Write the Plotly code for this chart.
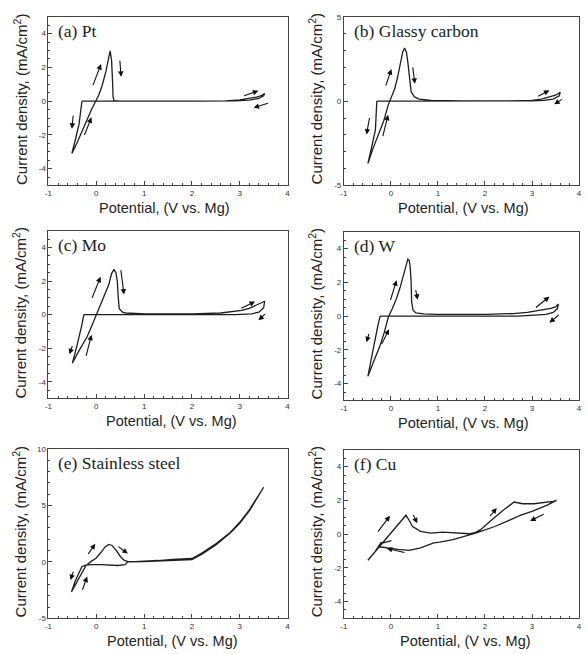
import plotly.graph_objects as go

# ---------------- data ----------------
PT_V = [-0.30, -0.32, -0.36, -0.43, -0.51, -0.40, -0.30, -0.20, -0.10, -0.02, 0.05, 0.12, 0.20, 0.29, 0.32, 0.34, 0.35, 0.37, 0.50, 1.00, 2.00, 2.70, 3.00, 3.20, 3.35, 3.45, 3.52, 3.50, 3.40, 3.20, 2.90, 2.00, 1.00, 0.00, -0.30]
PT_J = [0.00, -0.60, -1.35, -2.20, -3.10, -2.45, -1.80, -1.10, -0.50, -0.05, 0.35, 0.90, 1.75, 2.98, 2.40, 1.20, 0.30, 0.03, 0.00, 0.00, 0.00, 0.02, 0.08, 0.15, 0.24, 0.33, 0.45, 0.32, 0.16, 0.06, 0.02, 0.00, 0.00, 0.00, 0.00]

GC_V = [-0.30, -0.31, -0.33, -0.40, -0.49, -0.38, -0.25, -0.15, -0.06, 0.02, 0.08, 0.14, 0.19, 0.25, 0.29, 0.33, 0.36, 0.40, 0.43, 0.50, 0.60, 0.85, 1.5, 2.5, 3.0, 3.2, 3.35, 3.50, 3.60, 3.58, 3.45, 3.25, 3.0, 2.0, 1.0, 0.0, -0.30]
GC_J = [0.00, -0.80, -1.70, -2.60, -3.70, -2.80, -1.90, -1.15, -0.25, 0.25, 0.73, 1.40, 2.09, 2.90, 3.15, 2.90, 2.30, 1.20, 0.55, 0.25, 0.12, 0.05, 0.02, 0.02, 0.05, 0.12, 0.22, 0.35, 0.52, 0.32, 0.12, 0.05, 0.02, 0.00, 0.00, 0.00, 0.00]

MO_V = [-0.26, -0.28, -0.31, -0.40, -0.50, -0.38, -0.19, -0.10, -0.01, 0.06, 0.13, 0.20, 0.26, 0.32, 0.37, 0.41, 0.44, 0.46, 0.48, 0.55, 0.61, 1.03, 2.0, 2.6, 2.9, 3.04, 3.2, 3.32, 3.45, 3.52, 3.50, 3.40, 3.25, 2.9, 2.0, 1.0, 0.0, -0.26]
MO_J = [0.00, -0.35, -0.72, -1.80, -2.90, -2.25, -1.30, -0.70, -0.10, 0.35, 0.82, 1.30, 1.78, 2.45, 2.70, 2.50, 2.00, 1.00, 0.35, 0.15, 0.10, 0.05, 0.05, 0.10, 0.18, 0.26, 0.38, 0.52, 0.68, 0.80, 0.42, 0.15, 0.05, 0.00, 0.00, 0.00, 0.00, 0.00]

W_V = [-0.23, -0.25, -0.28, -0.38, -0.49, -0.36, -0.23, -0.14, -0.06, 0.03, 0.12, 0.19, 0.26, 0.32, 0.36, 0.39, 0.41, 0.43, 0.44, 0.47, 0.53, 0.70, 0.98, 2.0, 2.6, 2.9, 3.06, 3.25, 3.4, 3.5, 3.56, 3.54, 3.45, 3.30, 3.0, 2.7, 2.0, 1.0, 0.0, -0.23]
W_J = [0.00, -0.30, -0.60, -2.00, -3.57, -2.65, -1.74, -0.95, -0.10, 0.45, 1.06, 1.65, 2.32, 2.95, 3.38, 3.30, 2.90, 2.00, 0.87, 0.35, 0.19, 0.13, 0.10, 0.10, 0.15, 0.22, 0.29, 0.38, 0.46, 0.55, 0.72, 0.45, 0.22, 0.10, 0.04, 0.00, 0.00, 0.00, 0.00, 0.00]

SS_V = [-0.52, -0.40, -0.30, -0.22, -0.12, 0.00, 0.10, 0.18, 0.26, 0.33, 0.42, 0.50, 0.58, 0.66, 0.80, 1.00, 1.30, 1.60, 1.90, 2.00, 2.20, 2.50, 2.80, 3.00, 3.20, 3.35, 3.50, 3.40, 3.20, 3.00, 2.80, 2.50, 2.20, 2.00, 1.50, 1.00, 0.66, 0.60, 0.45, 0.30, 0.10, -0.10, -0.22, -0.30, -0.36, -0.44, -0.52]
SS_J = [-2.65, -1.75, -0.95, -0.35, 0.00, 0.35, 0.85, 1.30, 1.55, 1.45, 1.00, 0.50, 0.15, 0.02, 0.02, 0.05, 0.12, 0.22, 0.25, 0.30, 0.75, 1.60, 2.60, 3.50, 4.60, 5.60, 6.60, 5.85, 4.50, 3.40, 2.55, 1.50, 0.65, 0.20, 0.08, 0.02, 0.00, -0.25, -0.32, -0.28, -0.25, -0.25, -0.28, -0.40, -0.90, -1.70, -2.65]

CU_V = [0.01, -0.16, -0.21, -0.35, -0.49, -0.30, -0.10, 0.05, 0.18, 0.28, 0.32, 0.38, 0.46, 0.63, 0.84, 1.11, 1.40, 1.66, 1.80, 1.90, 2.14, 2.40, 2.62, 2.80, 3.04, 3.25, 3.45, 3.52, 3.31, 3.00, 2.76, 2.50, 2.21, 1.80, 1.32, 1.04, 0.91, 0.63, 0.39, 0.15, -0.06, -0.25]
CU_J = [-0.39, -0.52, -0.50, -1.09, -1.55, -0.92, -0.26, 0.24, 0.66, 0.98, 1.12, 0.85, 0.45, 0.16, 0.06, 0.12, 0.05, 0.02, 0.10, 0.25, 0.83, 1.45, 1.90, 1.80, 1.80, 1.85, 1.94, 2.00, 1.70, 1.35, 1.12, 0.80, 0.45, 0.06, -0.33, -0.47, -0.52, -0.82, -0.97, -0.91, -0.82, -0.75]

# scan-direction arrows: (tail V, tail J, head V, head J)
PT_ARROWS = [(-0.08, 0.86, 0.10, 2.2), (0.49, 2.49, 0.52, 1.44), (-0.48, -0.77, -0.51, -1.63),
             (-0.26, -2.1, -0.10, -0.96), (3.06, 0.29, 3.39, 0.61), (3.62, -0.1, 3.29, -0.39)]
GC_ARROWS = [(-0.12, 0.83, 0.01, 1.9), (0.46, 2.09, 0.51, 1.03), (-0.45, -0.91, -0.52, -1.98),
             (-0.18, -2.17, -0.06, -0.81), (3.1, 0.25, 3.37, 0.64), (3.67, 0.16, 3.47, -0.19)]
MO_ARROWS = [(-0.10, 0.92, 0.09, 2.26), (0.51, 2.75, 0.58, 1.2), (-0.49, -1.78, -0.56, -2.36),
             (-0.22, -2.55, -0.10, -1.2), (3.0, 0.34, 3.32, 0.78), (3.56, 0.11, 3.39, -0.34)]
W_ARROWS = [(-0.02, 0.87, 0.12, 2.13), (0.52, 1.64, 0.57, 0.97), (-0.46, -0.97, -0.52, -1.55),
            (-0.21, -1.74, -0.04, -0.77), (3.05, 0.44, 3.37, 1.16), (3.6, 0.14, 3.37, -0.39)]
SS_ARROWS = [(-0.19, 0.58, -0.02, 1.6), (0.43, 1.45, 0.66, 0.73), (-0.47, -0.73, -0.54, -1.6),
             (-0.3, -2.6, -0.19, -1.3)]
CU_ARROWS = [(-0.3, 0.06, -0.02, 1.09), (0.46, 1.22, 0.56, 0.64), (0.32, -1.11, -0.09, -0.85),
             (2.08, 0.97, 2.25, 1.55), (3.28, 1.22, 2.96, 0.78)]

LABELS = ["(a) Pt", "(b) Glassy carbon", "(c) Mo", "(d) W", "(e) Stainless steel", "(f) Cu"]
X_TICKS = [-1, 0, 1, 2, 3, 4]
X_TICKTEXT = ["-1", "0", "1", "2", "3", "4"]
Y_TICKS_SMALL = [-4, -2, 0, 2, 4]
Y_TICKTEXT_SMALL = ["-4", "-2", "0", "2", "4"]
Y_TICKS_GC = [-5, 0, 5]
Y_TICKTEXT_GC = ["-5", "0", "5"]
Y_TICKS_SS = [-5, 0, 5, 10]
Y_TICKTEXT_SS = ["-5", "0", "5", "10"]
X_TITLE = "Potential, (V vs. Mg)"
Y_TITLE = "Current density, (mA/cm<sup>2</sup>)"

# ---------------- layout helpers ----------------
W, H = 587, 654
def px_x(p):
    return p / W
def px_y(p):
    return 1 - p / H

BOXES = [(45, 13, 287, 184), (344, 13, 582, 184),
         (45, 230, 287, 400), (344, 231, 582, 402),
         (45, 451, 287, 623), (344, 452, 582, 623)]
XTITLE_CX = [162, 465, 170, 465, 171, 467]

series = [(PT_V, PT_J, PT_ARROWS), (GC_V, GC_J, GC_ARROWS), (MO_V, MO_J, MO_ARROWS),
          (W_V, W_J, W_ARROWS), (SS_V, SS_J, SS_ARROWS), (CU_V, CU_J, CU_ARROWS)]
yaxes_spec = [((-5, 5), Y_TICKS_SMALL, Y_TICKTEXT_SMALL, 0.5),
              ((-5, 5), Y_TICKS_GC, Y_TICKTEXT_GC, 1),
              ((-5, 5), Y_TICKS_SMALL, Y_TICKTEXT_SMALL, 0.5),
              ((-5, 5), Y_TICKS_SMALL, Y_TICKTEXT_SMALL, 0.5),
              ((-5, 10), Y_TICKS_SS, Y_TICKTEXT_SS, 1),
              ((-5, 5), Y_TICKS_SMALL, Y_TICKTEXT_SMALL, 0.5)]

LINE = "#1e1e1e"
AXC = "#444444"
TICKFONT = dict(family="Liberation Sans, Arial", size=8, color="#333333")

fig = go.Figure()
layout = dict(width=W, height=H, margin=dict(l=0, r=0, t=0, b=0),
              paper_bgcolor="white", plot_bgcolor="white", showlegend=False)
annotations = []

for i, ((vx, vy, arrows), (yr, ytv, ytt, ymin), box) in enumerate(zip(series, yaxes_spec, BOXES)):
    n = "" if i == 0 else str(i + 1)
    xa, ya = "x" + n, "y" + n
    fig.add_trace(go.Scatter(x=vx, y=vy, mode="lines", xaxis=xa, yaxis=ya,
                             line=dict(color=LINE, width=1.3), hoverinfo="skip"))
    l, t, r, b = box
    layout["xaxis" + n] = dict(domain=[px_x(l), px_x(r)], anchor=ya, range=[-1, 4],
                               tickvals=X_TICKS, ticktext=X_TICKTEXT, ticks="inside", ticklen=4,
                               tickcolor=AXC, showline=True, linecolor=AXC, linewidth=1, mirror=True,
                               showgrid=False, zeroline=False, tickfont=TICKFONT,
                               minor=dict(dtick=0.2, tick0=0, ticks="inside", ticklen=2, tickcolor=AXC))
    layout["yaxis" + n] = dict(domain=[px_y(b), px_y(t)], anchor=xa, range=list(yr),
                               tickvals=ytv, ticktext=ytt, ticks="inside", ticklen=4,
                               tickcolor=AXC, showline=True, linecolor=AXC, linewidth=1, mirror=True,
                               showgrid=False, zeroline=False, tickfont=TICKFONT,
                               minor=dict(dtick=ymin, tick0=0, ticks="inside", ticklen=2, tickcolor=AXC))
    # panel label
    annotations.append(dict(text=LABELS[i], xref="paper", yref="paper",
                            x=px_x(l + 8), y=px_y(t + 14), xanchor="left", yanchor="middle",
                            showarrow=False, font=dict(family="Liberation Serif, Times New Roman",
                                                       size=17.5, color="#222222")))
    # axis titles
    annotations.append(dict(text=X_TITLE, xref="paper", yref="paper",
                            x=px_x(XTITLE_CX[i]), y=px_y(b + 23), xanchor="center", yanchor="middle",
                            showarrow=False, font=dict(family="Liberation Sans, Arial", size=14.5,
                                                       color="#222222")))
    annotations.append(dict(text=Y_TITLE, xref="paper", yref="paper", textangle=-90,
                            x=px_x(l - 29), y=px_y((t + b) / 2 - 2), xanchor="center", yanchor="middle",
                            showarrow=False, font=dict(family="Liberation Sans, Arial", size=15,
                                                       color="#222222")))
    # arrows
    for (x0, y0, x1, y1) in arrows:
        annotations.append(dict(x=x1, y=y1, ax=x0, ay=y0, xref=xa, yref=ya, axref=xa, ayref=ya,
                                text="", showarrow=True, arrowhead=2, arrowsize=1,
                                arrowwidth=1.1, arrowcolor="#111111", standoff=0, startstandoff=0))

layout["annotations"] = annotations
fig.update_layout(**layout)
fig.write_html("out.html", config={"displayModeBar": False},
               post_script="document.body.style.margin='0px';")
